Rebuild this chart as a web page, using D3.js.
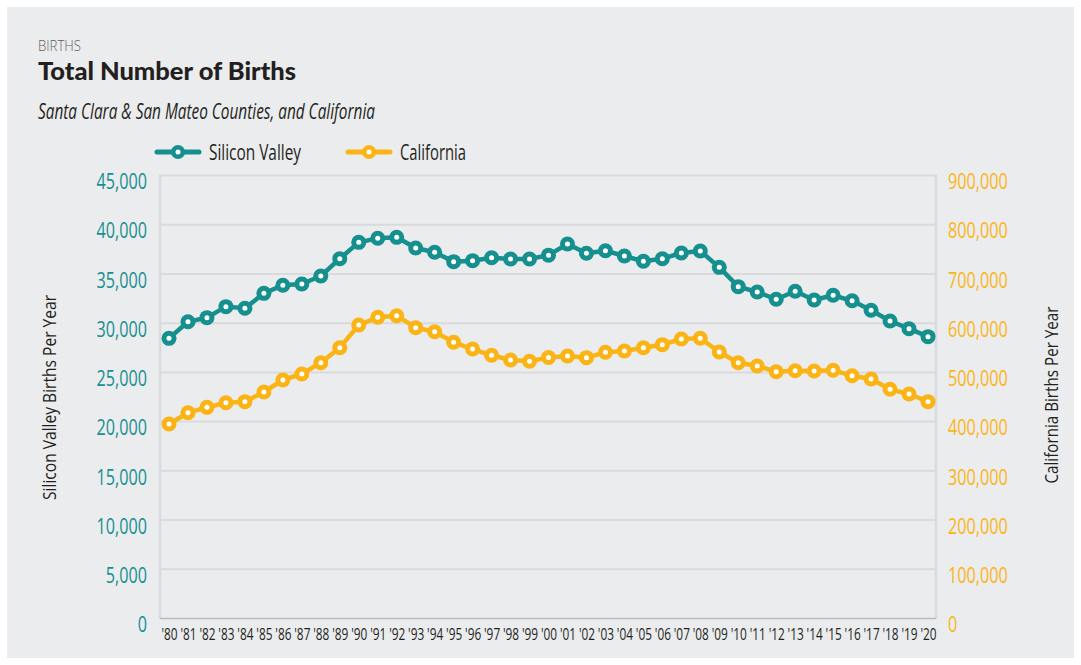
<!DOCTYPE html>
<html>
<head>
<meta charset="utf-8">
<script src="https://cdn.jsdelivr.net/npm/d3@7"></script>
<style>
  body { margin: 0; background: #fff; }
  svg text { font-family: "Open Sans", sans-serif; }
</style>
</head>
<body>
<div id="chart"></div>
<script>
// data
const years = d3.range(1980, 2021)
const yearLabels = years.map(y => "'" + String(y).slice(2))
const siliconValley = [28460, 30150, 30560, 31680, 31510, 33030, 33850, 33980, 34790, 36550,
  38210, 38620, 38720, 37640, 37200, 36250, 36350, 36650, 36520, 36520,
  36910, 38040, 37100, 37360, 36820, 36290, 36550, 37130, 37330, 35670,
  33710, 33170, 32430, 33240, 32350, 32830, 32280, 31310, 30220, 29440, 28630]
const california = [395200, 418100, 429000, 438400, 440500, 460200, 484500, 496700, 519700, 550200,
  596300, 611900, 615200, 590800, 582700, 561100, 547500, 534700, 525200, 522500,
  530300, 533300, 529900, 540800, 543500, 550200, 556300, 567800, 569300, 541400,
  519700, 513000, 501400, 503400, 502800, 504200, 493300, 486600, 465600, 456100, 440500]
const leftTicks = d3.range(0, 45001, 5000)
const rightTicks = d3.range(0, 900001, 100000)

const teal = "#168f8f"
const gold = "#fbb416"
const ink = "#231f20"
const width = 1081, height = 665
const plot = { left: 160, right: 936, top: 175.5, bottom: 618.5 }

// no condensed face installed, so squeeze the glyphs
function condense(sel, factor) {
  sel.each(function () {
    const w = this.getComputedTextLength()
    d3.select(this)
      .attr("textLength", w * factor)
      .attr("lengthAdjust", "spacingAndGlyphs")
  })
}

const svg = d3.select("#chart").append("svg")
  .attr("width", width)
  .attr("height", height)

svg.append("rect")
  .attr("x", 7).attr("y", 7)
  .attr("width", 1067).attr("height", 651)
  .attr("fill", "#ebecee")

const x = d3.scalePoint()
  .domain(years)
  .range([169, 928])

const yLeft = d3.scaleLinear()
  .domain([0, 45000])
  .range([plot.bottom, plot.top])

const yRight = d3.scaleLinear()
  .domain([0, 900000])
  .range([plot.bottom, plot.top])

// grid
svg.append("g")
  .selectAll("line")
  .data(leftTicks.slice(1))
  .join("line")
  .attr("x1", plot.left).attr("x2", plot.right)
  .attr("y1", d => yLeft(d)).attr("y2", d => yLeft(d))
  .attr("stroke", "#d9dadc")
  .attr("stroke-width", 2)

svg.append("g")
  .selectAll("line")
  .data([plot.left, plot.right])
  .join("line")
  .attr("x1", d => d).attr("x2", d => d)
  .attr("y1", plot.top - 1).attr("y2", plot.bottom)
  .attr("stroke", "#d9dadc")
  .attr("stroke-width", 2.5)

svg.append("line")
  .attr("x1", plot.left).attr("x2", plot.right)
  .attr("y1", plot.bottom).attr("y2", plot.bottom)
  .attr("stroke", "#b9babc")
  .attr("stroke-width", 1.5)

// left axis
const leftAxis = svg.append("g")
  .attr("transform", `translate(${plot.left - 10}, 6.5)`)
  .call(d3.axisLeft(yLeft).tickValues(leftTicks).tickFormat(d3.format(",")).tickSize(0))
leftAxis.select(".domain").remove()
leftAxis.selectAll("text")
  .attr("fill", teal)
  .style("font-size", "21px")
  .call(condense, 0.77)

// right axis
const rightAxis = svg.append("g")
  .attr("transform", `translate(${plot.right + 12}, 6.5)`)
  .call(d3.axisRight(yRight).tickValues(rightTicks).tickFormat(d3.format(",")).tickSize(0))
rightAxis.select(".domain").remove()
rightAxis.selectAll("text")
  .attr("fill", gold)
  .attr("x", 0)
  .style("font-size", "21px")
  .call(condense, 0.77)

// x axis: year labels squeezed with a transform so they sit side by side
const xAxis = svg.append("g")
  .attr("transform", `translate(0, 626)`)
  .call(d3.axisBottom(x).tickFormat((d, i) => yearLabels[i]).tickSize(0))
xAxis.select(".domain").remove()
xAxis.selectAll("text")
  .attr("fill", ink)
  .attr("transform", "scale(0.74, 1)")
  .style("font-size", "16px")

// axis titles
svg.append("text")
  .attr("transform", "translate(56, 397.5) rotate(-90)")
  .attr("text-anchor", "middle")
  .attr("fill", ink)
  .attr("textLength", 205)
  .attr("lengthAdjust", "spacingAndGlyphs")
  .style("font-size", "19px")
  .text("Silicon Valley Births Per Year")

svg.append("text")
  .attr("transform", "translate(1058, 395) rotate(-90)")
  .attr("text-anchor", "middle")
  .attr("fill", ink)
  .attr("textLength", 177)
  .attr("lengthAdjust", "spacingAndGlyphs")
  .style("font-size", "19px")
  .text("California Births Per Year")

// titles
svg.append("text")
  .attr("x", 38).attr("y", 51)
  .attr("fill", "#5f6062")
  .attr("textLength", 43)
  .attr("lengthAdjust", "spacingAndGlyphs")
  .style("font-size", "14px")
  .style("font-weight", "300")
  .text("BIRTHS")

svg.append("text")
  .attr("x", 38).attr("y", 80)
  .attr("fill", ink)
  .attr("textLength", 258)
  .attr("lengthAdjust", "spacingAndGlyphs")
  .style("font-family", "Lato, sans-serif")
  .style("font-weight", "900")
  .style("font-size", "25px")
  .text("Total Number of Births")

svg.append("text")
  .attr("x", 38).attr("y", 119)
  .attr("fill", ink)
  .attr("textLength", 337)
  .attr("lengthAdjust", "spacingAndGlyphs")
  .style("font-style", "italic")
  .style("font-size", "22px")
  .text("Santa Clara & San Mateo Counties, and California")

// series
const series = [
  { name: "Silicon Valley", values: siliconValley, y: yLeft, color: teal, lx: 157, tw: 92 },
  { name: "California", values: california, y: yRight, color: gold, lx: 348, tw: 66 }
]

series.forEach(s => {
  const line = d3.line()
    .x((d, i) => x(years[i]))
    .y(d => s.y(d))

  svg.append("path")
    .datum(s.values)
    .attr("d", line)
    .attr("fill", "none")
    .attr("stroke", s.color)
    .attr("stroke-width", 4.5)
    .attr("stroke-linejoin", "round")

  const dots = svg.append("g")
  dots.selectAll("circle.outer")
    .data(s.values)
    .join("circle")
    .attr("class", "outer")
    .attr("cx", (d, i) => x(years[i]))
    .attr("cy", d => s.y(d))
    .attr("r", 7.5)
    .attr("fill", s.color)
  dots.selectAll("circle.inner")
    .data(s.values)
    .join("circle")
    .attr("class", "inner")
    .attr("cx", (d, i) => x(years[i]))
    .attr("cy", d => s.y(d))
    .attr("r", 2.5)
    .attr("fill", "#fff")
})

// legend
const legend = svg.append("g")
  .selectAll("g")
  .data(series)
  .join("g")
  .attr("transform", d => `translate(${d.lx}, 152)`)

legend.append("line")
  .attr("x1", 0).attr("x2", 42)
  .attr("stroke", d => d.color)
  .attr("stroke-width", 5)
  .attr("stroke-linecap", "round")
legend.append("circle")
  .attr("cx", 21).attr("r", 7)
  .attr("fill", d => d.color)
legend.append("circle")
  .attr("cx", 21).attr("r", 2.5)
  .attr("fill", "#fff")
legend.append("text")
  .attr("x", 52).attr("y", 7.5)
  .attr("fill", ink)
  .attr("textLength", d => d.tw)
  .attr("lengthAdjust", "spacingAndGlyphs")
  .style("font-size", "22px")
  .text(d => d.name)
</script>
</body>
</html>
